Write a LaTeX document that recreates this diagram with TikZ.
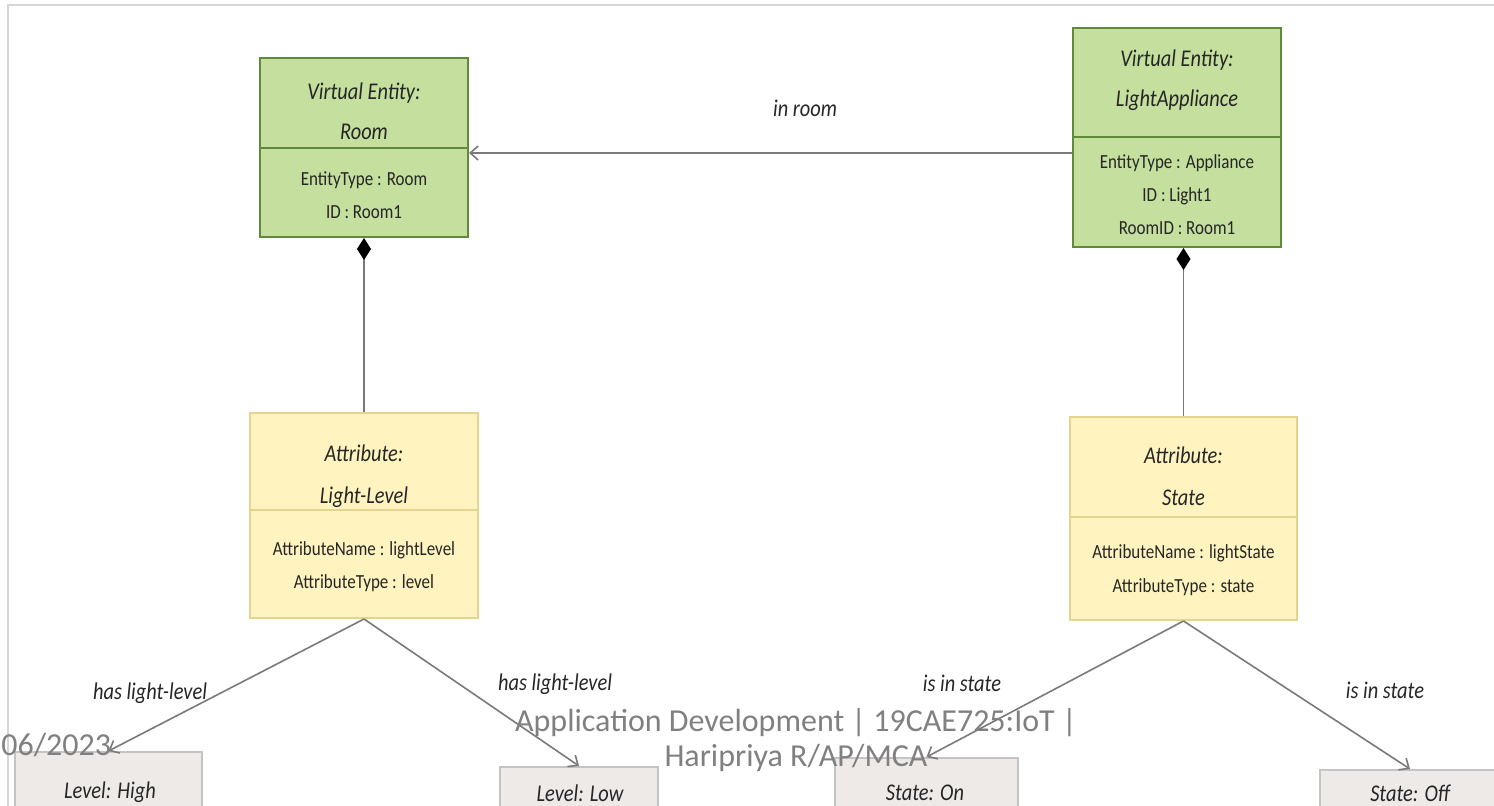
\documentclass[tikz,border=0pt]{standalone}
\usepackage{fontspec}
\setmainfont{Carlito}
\newfontfamily\diagfont[FakeStretch=0.85]{Carlito}
\usetikzlibrary{arrows.meta,calc}

\definecolor{entfill}{HTML}{C4DF9E}
\definecolor{entdraw}{HTML}{5F8B3B}
\definecolor{attfill}{HTML}{FFF3BF}
\definecolor{attdraw}{HTML}{E3D58F}
\definecolor{valfill}{HTML}{EDEAE7}
\definecolor{valdraw}{HTML}{C4C4C4}
\definecolor{linkgray}{HTML}{7A7A7A}
\definecolor{foot}{HTML}{808080}
\definecolor{framegray}{HTML}{D6D6D6}

\tikzset{
  entity/.style={draw=entdraw, fill=entfill, line width=1pt, inner sep=0pt, minimum width=104pt},
  attr/.style={draw=attdraw, fill=attfill, line width=1pt, inner sep=0pt},
  valuebox/.style={draw=valdraw, fill=valfill, line width=1pt, inner sep=0pt},
  title/.style={font=\diagfont\itshape\fontsize{12}{20}\selectfont, align=center, text=black!85, inner sep=0pt},
  field/.style={font=\diagfont\fontsize{10}{16.75}\selectfont, align=center, text=black!85, inner sep=0pt},
  rel/.style={font=\diagfont\itshape\fontsize{12}{14}\selectfont, text=black!85, inner sep=0pt},
  link/.style={draw=linkgray, line width=0.8pt},
  assoc/.style={link, -{Straight Barb[length=4pt,width=7pt]}},
  compo/.style={link, {Diamond[length=11pt,width=7pt,color=black,fill=black]}-},
  footer/.style={font=\fontsize{16}{17.5}\selectfont, text=foot, align=center, inner sep=0pt},
}

\begin{document}
\begin{tikzpicture}[x=0.5pt,y=-0.5pt]
  \clip (0,0) rectangle (1494,806);
  \fill[white] (0,0) rectangle (1494,806);
  \draw[framegray, line width=0.6pt] (8,806) -- (8,5) -- (1494,5);

  % entities
  \node[entity, minimum height=89.5pt] (room) at (364,147.5) {};
  \draw[entdraw, line width=1pt] (room.west |- 0,148) -- (room.east |- 0,148);
  \node[title] (roomtitle) at (364,111) {Virtual Entity:\\Room};
  \node[field] (roomfields) at (364,195) {EntityType : Room\\ID : Room1};

  \node[entity, minimum height=109.5pt] (la) at (1177,137.5) {};
  \draw[entdraw, line width=1pt] (la.west |- 0,137) -- (la.east |- 0,137);
  \node[title] (latitle) at (1177,80) {Virtual Entity:\\LightAppliance};
  \node[field, font=\diagfont\fontsize{10}{16.5}\selectfont] (lafields) at (1177,195) {EntityType : Appliance\\ID : Light1\\RoomID : Room1};

  % attributes
  \node[attr, minimum width=114pt, minimum height=102.5pt] (ll) at (364,515.5) {};
  \draw[attdraw, line width=1pt] (ll.west |- 0,510) -- (ll.east |- 0,510);
  \node[title, font=\diagfont\itshape\fontsize{12}{21}\selectfont] (lltitle) at (364,476) {Attribute:\\Light-Level};
  \node[field] (llfields) at (364,566.5) {AttributeName : lightLevel\\AttributeType : level};

  \node[attr, minimum width=113.5pt, minimum height=101.5pt] (state) at (1183.5,518.5) {};
  \draw[attdraw, line width=1pt] (state.west |- 0,517) -- (state.east |- 0,517);
  \node[title, font=\diagfont\itshape\fontsize{12}{21}\selectfont] (statetitle) at (1183.5,476) {Attribute:\\State};
  \node[field] (statefields) at (1183.5,570) {AttributeName : lightState\\AttributeType : state};

  % values
  \node[valuebox, minimum width=93.5pt, minimum height=39pt] (high) at (108.5,791) {};
  \node[title] (hightext) at (110,792) {Level: High};
  \node[valuebox, minimum width=79pt, minimum height=36.5pt] (low) at (579,803.5) {};
  \node[title] (lowtext) at (580,793) {Level: Low};
  \node[valuebox, minimum width=91.5pt, minimum height=41pt] (on) at (926.5,799) {};
  \node[title] (ontext) at (925,793) {State: On};
  \node[valuebox, minimum width=90pt, minimum height=35pt] (off) at (1410,805) {};
  \node[title] (offtext) at (1410,793) {State: Off};

  % connectors
  \coordinate (inroomend) at ([yshift=-2.75pt]room.east);
  \draw[assoc] (la.west |- inroomend) -- (inroomend);
  \node[rel] (inroom) at (805,108) {in room};

  \draw[compo] (room.south) -- (ll.north);
  \draw[compo] (state.north |- la.south) -- (state.north);

  \draw[assoc] (ll.south) -- (high.north);
  \draw[assoc] (ll.south) -- (low.north);
  \draw[assoc] (state.south) -- (on.north);
  \draw[assoc] (state.south) -- (off.north);

  \node[rel] (relhigh) at (150,693) {has light-level};
  \node[rel] (rellow) at (555,684) {has light-level};
  \node[rel] (relon) at (962,683) {is in state};
  \node[rel] (reloff) at (1385,690) {is in state};

  % footer
  \node[footer, anchor=west] (date) at (1,745) {06/2023};
  \node[footer] (credit) at (796,740) {Application Development | 19CAE725:IoT |\\Haripriya R/AP/MCA};
\end{tikzpicture}
\end{document}
